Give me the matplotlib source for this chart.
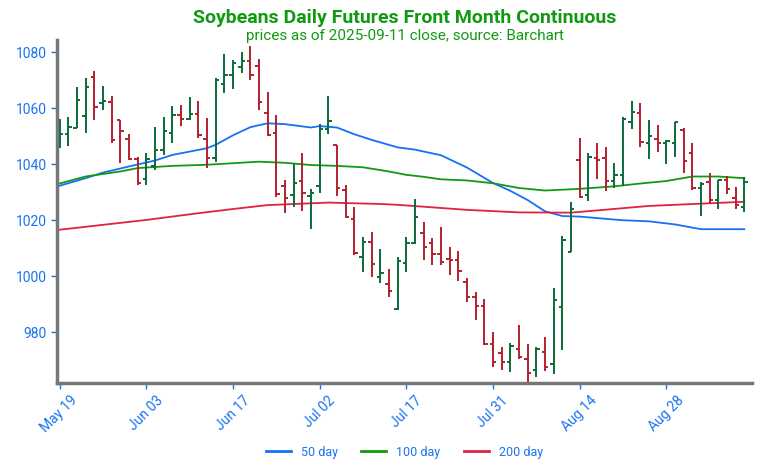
import numpy as np
import matplotlib
matplotlib.use('Agg')
import matplotlib.pyplot as plt
from matplotlib.lines import Line2D

plt.rcParams['font.family'] = ['Roboto', 'DejaVu Sans']

# 日线 OHLC（2025-05-19 ~ 2025-09-11，共 80 个交易日）
opens = [1050.3, 1050.7, 1052.9, 1057.3, 1071.3, 1061.8, 1062.1, 1055.8, 1049.0, 1041.8,
         1034.6, 1039.4, 1045.1, 1051.1, 1057.6, 1056.1, 1058.0, 1048.9, 1042.1, 1068.7,
         1071.9, 1074.6, 1077.0, 1075.1, 1058.4, 1051.1, 1032.3, 1028.9, 1034.1, 1028.6,
         1032.2, 1052.5, 1046.9, 1030.8, 1020.3, 1006.7, 1012.3, 999.8, 997.2, 988.2,
         1004.8, 1012.0, 1015.6, 1012.0, 1008.0, 1006.0, 1005.8, 998.1, 992.7, 989.4,
         975.8, 972.7, 969.5, 974.0, 970.3, 966.5, 973.0, 968.6, 989.1, 1008.8,
         1041.5, 1029.0, 1042.1, 1042.1, 1034.1, 1036.1, 1055.2, 1058.2, 1047.5, 1048.9,
         1047.7, 1047.5, 1052.3, 1043.9, 1031.4, 1033.8, 1027.3, 1034.2, 1027.9, 1024.6]
highs = [1056.1, 1056.8, 1067.4, 1070.7, 1073.1, 1068.0, 1064.2, 1055.8, 1050.7, 1042.7,
         1043.9, 1053.2, 1056.8, 1060.6, 1061.2, 1063.9, 1062.7, 1056.4, 1070.7, 1079.2,
         1077.3, 1079.9, 1082.3, 1077.5, 1065.7, 1057.6, 1034.5, 1040.1, 1044.1, 1031.0,
         1054.4, 1064.4, 1046.9, 1032.6, 1024.6, 1014.1, 1015.9, 1009.6, 1002.5, 1006.7,
         1013.9, 1027.5, 1019.5, 1013.5, 1017.7, 1010.6, 1009.1, 999.3, 994.5, 991.8,
         980.2, 974.6, 976.3, 982.6, 975.8, 974.6, 978.2, 995.7, 1014.4, 1026.6,
         1049.2, 1043.9, 1047.7, 1046.0, 1040.3, 1056.7, 1062.7, 1061.8, 1055.6, 1054.0,
         1048.7, 1054.9, 1052.9, 1047.7, 1033.8, 1037.0, 1034.4, 1035.8, 1031.8, 1035.4]
lows = [1045.7, 1046.5, 1052.9, 1051.1, 1055.8, 1059.2, 1047.7, 1040.4, 1041.5, 1032.6,
        1032.6, 1038.0, 1043.3, 1047.5, 1053.7, 1055.8, 1049.2, 1038.6, 1040.9, 1065.4,
        1066.8, 1072.5, 1070.1, 1059.2, 1049.9, 1028.2, 1022.5, 1024.6, 1023.4, 1016.7,
        1029.8, 1050.8, 1028.6, 1020.8, 1007.6, 1001.6, 999.6, 997.5, 992.7, 988.0,
        1001.6, 1011.5, 1005.8, 1004.0, 1004.0, 1000.4, 998.4, 990.9, 984.4, 975.4,
        967.7, 966.5, 965.9, 970.3, 961.7, 963.9, 966.3, 965.1, 973.6, 1008.8,
        1027.8, 1027.0, 1034.6, 1030.5, 1031.4, 1032.2, 1052.5, 1046.3, 1041.8, 1044.2,
        1040.1, 1042.5, 1036.8, 1030.8, 1021.5, 1025.8, 1023.9, 1029.4, 1023.9, 1023.1]
closes = [1050.8, 1053.2, 1062.9, 1067.5, 1060.4, 1062.6, 1048.7, 1052.0, 1042.0, 1033.4,
          1041.8, 1045.1, 1052.0, 1057.6, 1056.1, 1058.0, 1050.5, 1042.1, 1070.1, 1071.9,
          1076.3, 1076.7, 1072.0, 1062.3, 1050.5, 1029.4, 1028.0, 1033.2, 1029.6, 1029.6,
          1052.5, 1055.5, 1031.4, 1021.3, 1008.2, 1012.3, 1004.4, 1001.0, 994.8, 1005.5,
          1012.0, 1021.3, 1010.3, 1008.0, 1005.2, 1005.8, 1002.0, 992.5, 989.4, 975.8,
          969.5, 969.5, 975.1, 971.3, 965.3, 974.2, 967.7, 991.7, 1012.9, 1023.9,
          1028.4, 1042.5, 1041.5, 1034.1, 1036.1, 1056.0, 1058.8, 1048.0, 1049.9, 1047.7,
          1048.4, 1054.9, 1041.0, 1031.4, 1033.0, 1027.3, 1034.4, 1031.1, 1025.5, 1033.8]

# 均线（从图上按交易日序号读取）
ma50_idx = [0, 3, 5, 9, 11, 13, 17, 18, 20, 22, 24, 26, 29, 30, 32, 34, 36, 39, 41,
            44, 47, 50, 52, 54, 56, 58, 60, 63, 65, 68, 71, 74, 77, 79]
ma50 = [1032.3, 1035.0, 1037.0, 1039.9, 1041.3, 1043.3, 1045.7, 1046.9, 1050.3, 1053.2,
        1054.6, 1054.3, 1053.1, 1053.6, 1053.1, 1050.7, 1048.7, 1046.0, 1045.2,
        1043.2, 1038.8, 1033.3, 1030.5, 1027.2, 1023.2, 1021.5, 1021.3, 1020.5, 1020.0,
        1019.6, 1018.5, 1016.8, 1016.8, 1016.8]
ma100_idx = [0, 3, 7, 9, 13, 17, 23, 26, 29, 32, 35, 38, 40, 42, 44, 47, 50, 53, 56,
             60, 64, 67, 70, 73, 76, 79]
ma100 = [1033.1, 1035.6, 1037.4, 1038.6, 1039.4, 1039.8, 1040.9, 1040.5, 1039.7, 1039.4,
         1038.9, 1037.4, 1036.2, 1035.5, 1034.6, 1034.2, 1033.2, 1031.5, 1030.6,
         1031.2, 1032.1, 1033.1, 1034.0, 1035.6, 1035.6, 1035.0]
ma200_idx = [0, 10, 16, 20, 24, 31, 37, 39, 47, 53, 59, 68, 79]
ma200 = [1016.6, 1020.1, 1022.5, 1024.0, 1025.4, 1026.3, 1025.8, 1025.5, 1023.7, 1022.8,
         1022.7, 1025.1, 1026.6]

tick_pos = [0, 10, 20, 30, 40, 50, 60, 70]
tick_labels = ['May 19', 'Jun 03', 'Jun 17', 'Jul 02', 'Jul 17', 'Jul 31', 'Aug 14', 'Aug 28']

blue_txt = '#1a73f0'
up_col = '#0b6b3a'
down_col = '#b3202e'

fig = plt.figure(figsize=(7.59, 4.74), dpi=100)
ax = fig.add_axes([0.075, 0.192, 0.916, 0.724])

ax.plot(ma50_idx, ma50, color='#1670f5', lw=1.3, zorder=1)
ax.plot(ma100_idx, ma100, color='#119a11', lw=1.3, zorder=1)
ax.plot(ma200_idx, ma200, color='#e0233f', lw=1.3, zorder=1)

idx = np.arange(len(opens))
o = np.array(opens); h = np.array(highs); l = np.array(lows); c = np.array(closes)
cols = [up_col if cc >= oo else down_col for oo, cc in zip(o, c)]
w = 0.4
ax.vlines(idx, l, h, colors=cols, lw=1.4, zorder=2)
ax.hlines(o, idx - w, idx, colors=cols, lw=1.4, zorder=2)
ax.hlines(c, idx, idx + w, colors=cols, lw=1.4, zorder=2)

ax.set_xlim(-0.3, 79.9)
ax.set_ylim(961.9, 1084.4)
ax.set_yticks([980, 1000, 1020, 1040, 1060, 1080])
ax.set_xticks(tick_pos)
ax.set_xticklabels(tick_labels, rotation=45, ha='center')
ax.tick_params(axis='both', colors=blue_txt, labelsize=10, length=4, width=1)

for s in ['top', 'right']:
    ax.spines[s].set_visible(False)
for s in ['left', 'bottom']:
    ax.spines[s].set_color('#777777')
    ax.spines[s].set_linewidth(2.5)

cx = 0.075 + 0.916 / 2
fig.text(cx, 0.961, 'Soybeans Daily Futures Front Month Continuous', ha='center', va='center',
         fontsize=14, fontweight='bold', color='#119a11')
fig.text(cx, 0.925, 'prices as of 2025-09-11 close, source: Barchart', ha='center', va='center',
         fontsize=11, color='#119a11')

handles = [Line2D([], [], color='#1670f5', lw=2),
           Line2D([], [], color='#119a11', lw=2),
           Line2D([], [], color='#e0233f', lw=2)]
leg = fig.legend(handles, ['50 day', '100 day', '200 day'], loc='center', ncol=3,
                 bbox_to_anchor=(cx, 0.046), frameon=False, fontsize=9,
                 handlelength=2.0, columnspacing=1.9, labelcolor=blue_txt)

fig.savefig('out.png', dpi=100)
